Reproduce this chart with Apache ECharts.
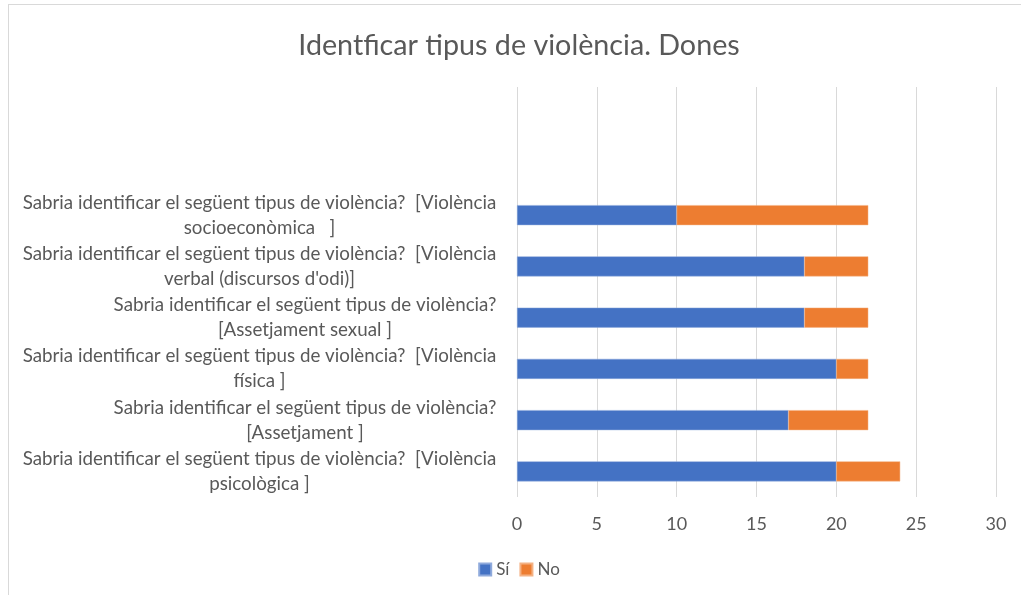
<!DOCTYPE html>
<html>
<head>
<meta charset="utf-8">
<script src="https://cdn.jsdelivr.net/npm/echarts@6/dist/echarts.min.js"></script>
<style>
  html, body { margin: 0; padding: 0; background: #fff; overflow: hidden; }
  #frame { position: absolute; left: 8px; top: 4px; width: 1030px; height: 600px; border: 1px solid #d9d9d9; }
  #chart { position: absolute; left: 0; top: 0; width: 1038px; height: 595px; }
</style>
</head>
<body>
<div id="frame"></div>
<div id="chart"></div>
<script>
var titleText = 'Identficar tipus de violència. Dones';
// bottom to top; the two blank slots at the top are empty in the source
var labelLine1 = [
  'Sabria identificar el següent tipus de violència?  [Violència',
  'Sabria identificar el següent tipus de violència?',
  'Sabria identificar el següent tipus de violència?  [Violència',
  'Sabria identificar el següent tipus de violència?',
  'Sabria identificar el següent tipus de violència?  [Violència',
  'Sabria identificar el següent tipus de violència?  [Violència',
  '',
  ''
];
var labelLine2 = [
  'psicològica ]',
  '[Assetjament ]',
  'física ]',
  '[Assetjament sexual ]',
  "verbal (discursos d'odi)]",
  'socioeconòmica   ]',
  '',
  ''
];
var siValues = [20, 17, 20, 18, 18, 10, null, null];
var noValues = [4, 5, 2, 4, 4, 12, null, null];
var xTicks = { min: 0, max: 30, interval: 5 };

var fontFam = 'Lato, "Open Sans", sans-serif';
var textColor = '#595959';
var labelSize = 18.75;

var categories = labelLine1.map(function (l, i) {
  return l === '' ? (i + '') : l + '\n' + labelLine2[i];
});

// width of each first line so the second line can be centred under it
var ctx = document.createElement('canvas').getContext('2d');
ctx.font = labelSize + 'px ' + fontFam;
var richStyles = {};
var widthKey = {};
labelLine1.forEach(function (l) {
  if (l === '' || widthKey[l]) return;
  var key = 'w' + Object.keys(widthKey).length;
  widthKey[l] = key;
  richStyles[key] = {
    width: Math.ceil(ctx.measureText(l).width) + 1,
    align: 'center',
    fontFamily: fontFam,
    fontSize: labelSize,
    color: textColor,
    lineHeight: 25
  };
});

var chart = echarts.init(document.getElementById('chart'));
chart.setOption({
  animation: false,
  title: {
    text: titleText,
    left: 'center',
    top: 26,
    textStyle: { fontFamily: fontFam, fontSize: 28.7, fontWeight: 'normal', color: textColor }
  },
  legend: {
    bottom: 12,
    left: 'center',
    icon: 'rect',
    itemWidth: 12,
    itemHeight: 12,
    itemGap: 10,
    textStyle: { fontFamily: fontFam, fontSize: 17, color: textColor },
    data: ['Sí', 'No']
  },
  grid: { left: 517, right: 42, top: 87, bottom: 98, containLabel: false },
  xAxis: {
    type: 'value',
    min: xTicks.min,
    max: xTicks.max,
    interval: xTicks.interval,
    axisLine: { show: false },
    axisTick: { show: false },
    splitLine: { lineStyle: { color: '#d9d9d9', width: 1 } },
    axisLabel: { fontFamily: fontFam, fontSize: 18, color: textColor, margin: 18 }
  },
  yAxis: {
    type: 'category',
    data: categories,
    axisLine: { show: false },
    axisTick: { show: false },
    axisLabel: {
      margin: 20,
      align: 'right',
      interval: 0,
      lineHeight: 25,
      formatter: function (v) {
        if (v.indexOf('\n') < 0) return '';
        var parts = v.split('\n');
        var k = widthKey[parts[0]];
        return '{' + k + '|' + parts[0] + '}\n{' + k + '|' + parts[1] + '}';
      },
      rich: richStyles
    }
  },
  series: [
    {
      name: 'Sí',
      type: 'bar',
      stack: 'total',
      barWidth: 20,
      data: siValues,
      itemStyle: { color: '#4472c4', borderColor: '#8faadc', borderWidth: 0.5 }
    },
    {
      name: 'No',
      type: 'bar',
      stack: 'total',
      barWidth: 20,
      data: noValues,
      itemStyle: { color: '#ed7d31', borderColor: '#f4b183', borderWidth: 0.5 }
    }
  ]
});
</script>
</body>
</html>
